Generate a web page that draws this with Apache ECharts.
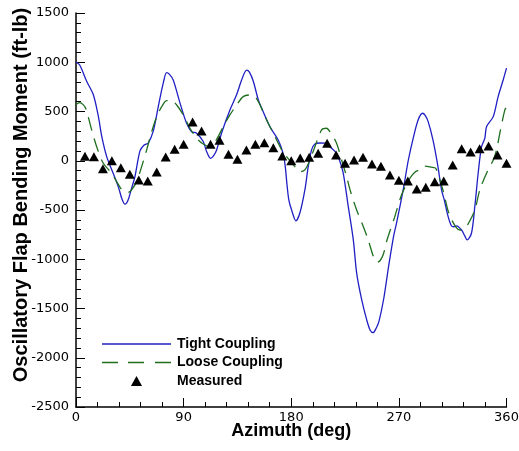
<!DOCTYPE html>
<html>
<head>
<meta charset="utf-8">
<script src="https://cdn.jsdelivr.net/npm/echarts@6/dist/echarts.min.js"></script>
<style>html,body{margin:0;padding:0;background:#fff;}#c{width:519px;height:451px;}</style>
</head>
<body>
<div id="c"></div>
<script>
// Tight coupling (azimuth deg, moment ft-lb)
var tightAz = [0,3,9,14.5,18.7,21.5,25.6,31,35.4,38.5,41,43.5,46,49.3,53.5,57,60.4,64.6,68.8,73,75.8,78,81.3,87,92.5,96.7,100.8,106.4,109.2,112.5,115,117.6,121.7,128.7,134.3,138.5,142.7,145,148.2,152.4,155.2,162.2,169.1,173.3,175,176.5,178,180.3,183.9,187.2,191.4,194.2,197,199.8,204,208.1,212.3,217.9,220.5,223.5,227.7,231.9,234.7,238.9,243.1,246,248.5,251,253.3,257.4,261.6,265.8,268,273.6,277.8,282,286.1,289.8,292,294.5,298.5,302.4,305.7,308,311.2,314,316,318.2,322.4,325,327.1,330.7,333.5,336.3,339.1,341.9,343.3,348.9,353,357.2,360];
var tightVal = [1000,975,805,670,450,250,45,-125,-265,-390,-440,-400,-300,-160,100,160,180,300,550,790,895,880,820,585,380,295,280,195,95,25,50,110,280,515,670,820,920,900,810,620,535,345,210,70,-60,-250,-400,-500,-610,-530,-295,-60,110,170,180,178,143,76,0,-127,-466,-804,-1140,-1410,-1615,-1720,-1745,-1700,-1633,-1396,-1058,-753,-635,-296,0,230,414,482,460,397,211,-40,-296,-400,-567,-662,-670,-662,-703,-760,-804,-736,-466,-127,140,230,346,448,651,820,940];
// Loose coupling
var looseAz = [0,3,6,8.4,13.1,17.3,22.8,29.8,34,38,41,44,46.5,50.7,54.9,59.1,63.3,67.5,71.7,75.9,80,84.2,89.7,95.3,100.9,106.4,112,117.6,123.1,128.7,134.3,139.8,145.4,151,159.4,165,172,176.1,183,187.2,191.4,195.6,199.8,205.4,209.5,212.3,217.9,222.1,226.3,229.2,234.7,240.3,244.4,248,250,252,254.5,257,260.2,266.6,272.2,279.2,284,287.5,292,297,300.7,304.3,307.6,311.8,317.4,321,325.2,328,333.5,337.7,343.3,348.9,351.7,354.4,358.6,360];
var looseVal = [570,590,570,523,313,143,-25,-127,-212,-290,-313,-320,-296,-212,-60,110,296,448,549,610,610,566,465,330,228,170,143,218,346,465,566,651,668,630,414,279,110,42,-60,-111,-93,8,143,313,330,296,178,8,-161,-296,-500,-669,-804,-950,-1007,-1030,-1010,-950,-800,-567,-347,-178,-110,-93,-55,-65,-76,-195,-330,-533,-669,-703,-685,-640,-500,-296,-127,8,110,279,516,545];
// Measured
var measAz = [7.5,15,22.5,30,37.5,45,52.5,60,67.5,75,82.5,90,97.5,105,112.5,120,127.5,135,142.5,150,157.5,165,172.5,180,187.5,195,202.5,210,217.5,225,232.5,240,247.5,255,262.5,270,277.5,285,292.5,300,307.5,315,322.5,330,337.5,345,352.5,360];
var measVal = [45,40,-80,0,-70,-137,-195,-205,-114,39,117,167,394,302,167,208,66,15,110,167,184,133,49,1,28,35,76,178,59,-25,8,35,-32,-56,-144,-198,-205,-286,-269,-212,-205,-43,123,89,123,150,59,-25];

var xTicks = [0,90,180,270,360];
var yTicks = [-2500,-2000,-1500,-1000,-500,0,500,1000,1500];

function pairs(a,b){var r=[];for(var i=0;i<a.length;i++)r.push([a[i],b[i]]);return r;}
function plain(v){return String(v);}

var chart = echarts.init(document.getElementById('c'), null, {renderer:'canvas'});
var axisCommon = {
  axisLine:{show:true,onZero:false,lineStyle:{color:'#000',width:1.5}},
  axisTick:{show:true,inside:true,length:9,lineStyle:{color:'#000',width:1}},
  minorTick:{show:true,splitNumber:5,length:5,lineStyle:{color:'#000',width:1}},
  splitLine:{show:false},
  minorSplitLine:{show:false},
  nameMoveOverlap:false
};
chart.setOption({
  animation:false,
  backgroundColor:'#fff',
  grid:{left:76,right:12.5,top:13,bottom:44,containLabel:false,outerBoundsMode:'none'},
  xAxis:Object.assign({}, axisCommon, {
    type:'value', min:xTicks[0], max:xTicks[xTicks.length-1], interval:90,
    name:'Azimuth (deg)', nameLocation:'middle', nameGap:15,
    nameTextStyle:{color:'#000',fontFamily:'Liberation Sans',fontWeight:'bold',fontSize:18},
    axisLabel:{color:'#000',fontFamily:'DejaVu Sans',fontSize:13,margin:4,formatter:plain}
  }),
  yAxis:Object.assign({}, axisCommon, {
    type:'value', min:yTicks[0], max:yTicks[yTicks.length-1], interval:500,
    name:'Oscillatory Flap Bending Moment (ft-lb)', nameLocation:'middle', nameGap:45,
    nameTextStyle:{color:'#000',fontFamily:'Liberation Sans',fontWeight:'bold',fontSize:20,padding:[0,0,0,30]},
    axisLabel:{color:'#000',fontFamily:'DejaVu Sans',fontSize:13,margin:7,formatter:plain}
  }),
  legend:{
    orient:'vertical', left:97, top:330, itemWidth:69, itemHeight:10, itemGap:0.5,
    symbolKeepAspect:true,
    textStyle:{color:'#000',fontFamily:'Liberation Sans',fontWeight:'bold',fontSize:14,lineHeight:18,padding:[0,0,0,1]},
    data:[
      {name:'Tight Coupling',icon:'path://M0,0H69V1.3H0Z',itemStyle:{borderWidth:0},lineStyle:{width:0}},
      {name:'Loose Coupling',icon:'path://M0,0H16V1.3H0Z M26,0H42V1.3H26Z M53,0H69V1.3H53Z',itemStyle:{borderWidth:0},lineStyle:{width:0}},
      {name:'Measured',icon:'path://M5,0L10,9L0,9Z',itemStyle:{borderWidth:0,opacity:1}}
    ]
  },
  series:[
    {name:'Tight Coupling',type:'line',data:pairs(tightAz,tightVal),symbol:'none',smooth:0.3,
     lineStyle:{color:'#1f1fc4',width:1.3},itemStyle:{color:'#1f1fc4'},z:2},
    {name:'Loose Coupling',type:'line',data:pairs(looseAz,looseVal),symbol:'none',smooth:0.3,
     lineStyle:{color:'#1e6e1e',width:1.3,type:[14,8]},itemStyle:{color:'#1e6e1e'},z:2},
    {name:'Measured',type:'scatter',data:pairs(measAz,measVal),symbol:'triangle',symbolSize:[10,9],
     itemStyle:{color:'#000',opacity:1},z:3}
  ]
});
</script>
</body>
</html>
